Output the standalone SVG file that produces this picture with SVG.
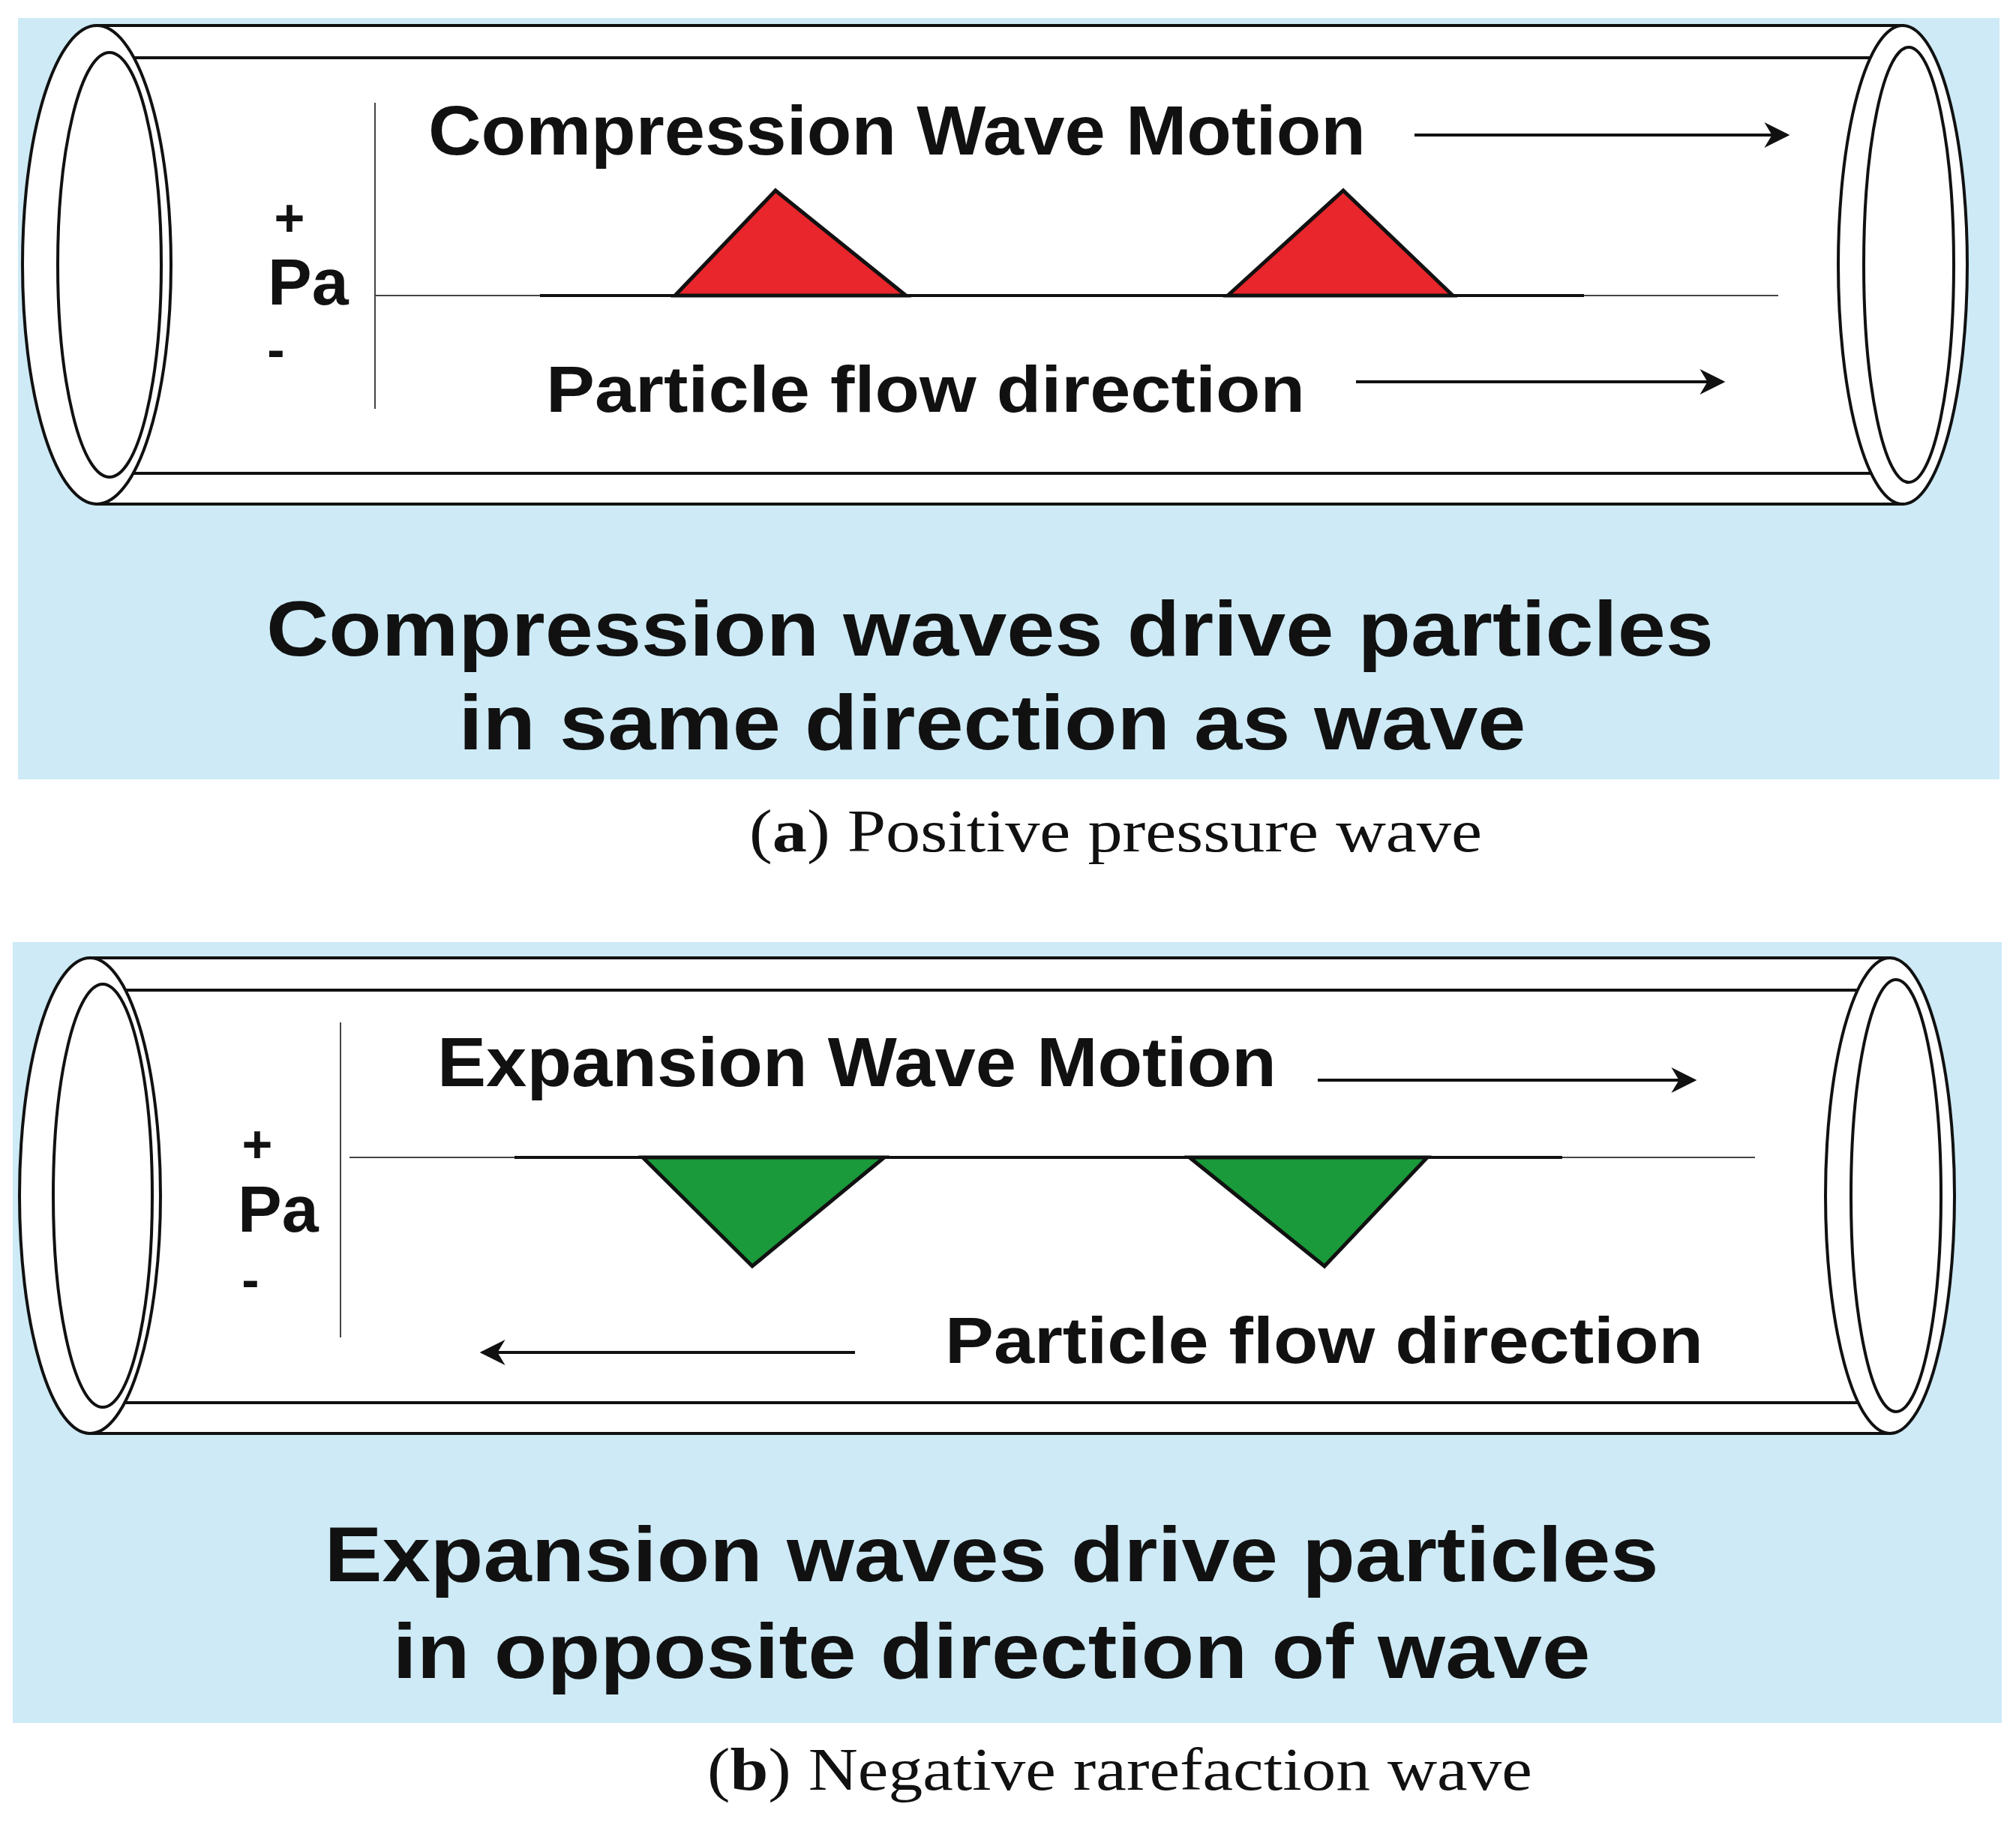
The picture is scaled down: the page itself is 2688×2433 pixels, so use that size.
<svg xmlns="http://www.w3.org/2000/svg" width="2688" height="2433" viewBox="0 0 2688 2433">
<defs>
<style>
.bg{fill:#cdeaf6}
.tube{fill:#fff;stroke:#111;stroke-width:4}
.ln{stroke:#111;stroke-width:4;fill:none}
.thin{stroke:#444;stroke-width:2;fill:none}
.t{font-family:"Liberation Sans",Arial,sans-serif;font-weight:bold;fill:#111}
.cap{font-family:"Liberation Serif","Times New Roman",serif;font-size:80px;fill:#111}
</style>
<marker id="ah" viewBox="0 0 10 10" refX="9" refY="5" markerWidth="9" markerHeight="9" orient="auto-start-reverse" markerUnits="userSpaceOnUse">
<path d="M0,0 L10,5 L0,10 L3,5 Z" fill="#111"/>
</marker>
<marker id="a" viewBox="0 0 10 10" refX="9" refY="5" markerWidth="40" markerHeight="34" orient="auto-start-reverse" markerUnits="userSpaceOnUse">
<path d="M0,0 L10,5 L0,10 L3,5 Z" fill="#111"/>
</marker>
</defs>
<rect width="2688" height="2433" fill="#fff"/>
<g id="panel-a">
<rect class="bg" x="24" y="24" width="2642" height="1015"/>
<path class="tube" d="M129,34 L2537,34 L2537,672 L129,672 Z"/>
<line class="ln" x1="129" y1="77" x2="2537" y2="77"/>
<line class="ln" x1="129" y1="631" x2="2537" y2="631"/>
<ellipse class="tube" cx="129" cy="353" rx="99" ry="319"/>
<ellipse class="ln" cx="146" cy="353" rx="69" ry="283"/>
<ellipse class="tube" cx="2537" cy="353" rx="86" ry="319"/>
<ellipse class="ln" cx="2545" cy="353" rx="60" ry="290"/>
<text class="t" x="571" y="206" font-size="92" textLength="1250" lengthAdjust="spacingAndGlyphs">Compression Wave Motion</text>
<line class="ln" x1="1886" y1="180" x2="2383" y2="180" marker-end="url(#a)"/>
<line class="thin" x1="500" y1="137" x2="500" y2="545"/>
<text class="t" x="386" y="315" font-size="70" text-anchor="middle">+</text>
<text class="t" x="357" y="406" font-size="88">Pa</text>
<text class="t" x="368" y="490" font-size="70" text-anchor="middle">-</text>
<line class="thin" x1="500" y1="394" x2="2371" y2="394"/>
<line class="ln" x1="720" y1="394" x2="2112" y2="394" stroke-width="6"/>
<path d="M900,394 L1034,254 L1208,394 Z M1637,394 L1791,254 L1937,394 Z" fill="#e8262b" stroke="#111" stroke-width="5"/>
<text class="t" x="728" y="549" font-size="88" textLength="1012" lengthAdjust="spacingAndGlyphs">Particle flow direction</text>
<line class="ln" x1="1808" y1="509" x2="2297" y2="509" marker-end="url(#a)"/>
<text class="t" x="1320" y="874" font-size="104" text-anchor="middle" textLength="1930" lengthAdjust="spacingAndGlyphs">Compression waves drive particles</text>
<text class="t" x="1323" y="999" font-size="104" text-anchor="middle" textLength="1423" lengthAdjust="spacingAndGlyphs">in same direction as wave</text>
</g>
<text class="cap" x="999" y="1135" textLength="977" lengthAdjust="spacingAndGlyphs">(<tspan font-weight="bold">a</tspan>) Positive pressure wave</text>
<g id="panel-b">
<rect class="bg" x="17" y="1256" width="2652" height="1041"/>
<path class="tube" d="M120,1277 L2520,1277 L2520,1911 L120,1911 Z"/>
<line class="ln" x1="120" y1="1320" x2="2520" y2="1320"/>
<line class="ln" x1="120" y1="1870" x2="2520" y2="1870"/>
<ellipse class="tube" cx="120" cy="1594" rx="94" ry="317"/>
<ellipse class="ln" cx="137" cy="1594" rx="66" ry="282"/>
<ellipse class="tube" cx="2520" cy="1594" rx="86" ry="317"/>
<ellipse class="ln" cx="2528" cy="1594" rx="60" ry="288"/>
<text class="t" x="583" y="1448" font-size="92" textLength="1119" lengthAdjust="spacingAndGlyphs">Expansion Wave Motion</text>
<line class="ln" x1="1757" y1="1440" x2="2259" y2="1440" marker-end="url(#a)"/>
<line class="thin" x1="454" y1="1363" x2="454" y2="1783"/>
<text class="t" x="343" y="1550" font-size="70" text-anchor="middle">+</text>
<text class="t" x="317" y="1642" font-size="88">Pa</text>
<text class="t" x="334" y="1730" font-size="70" text-anchor="middle">-</text>
<line class="thin" x1="466" y1="1543" x2="2340" y2="1543"/>
<line class="ln" x1="686" y1="1543" x2="2083" y2="1543" stroke-width="6"/>
<path d="M857,1543 L1003,1688 L1179,1543 Z M1586,1543 L1766,1688 L1903,1543 Z" fill="#1a9a3a" stroke="#111" stroke-width="5"/>
<text class="t" x="1260" y="1817" font-size="88" textLength="1011" lengthAdjust="spacingAndGlyphs">Particle flow direction</text>
<line class="ln" x1="1140" y1="1803" x2="643" y2="1803" marker-end="url(#a)"/>
<text class="t" x="1322" y="2108" font-size="104" text-anchor="middle" textLength="1779" lengthAdjust="spacingAndGlyphs">Expansion waves drive particles</text>
<text class="t" x="1322" y="2237" font-size="104" text-anchor="middle" textLength="1597" lengthAdjust="spacingAndGlyphs">in opposite direction of wave</text>
</g>
<text class="cap" x="943" y="2386" textLength="1100" lengthAdjust="spacingAndGlyphs">(<tspan font-weight="bold">b</tspan>) Negative rarefaction wave</text>
</svg>
